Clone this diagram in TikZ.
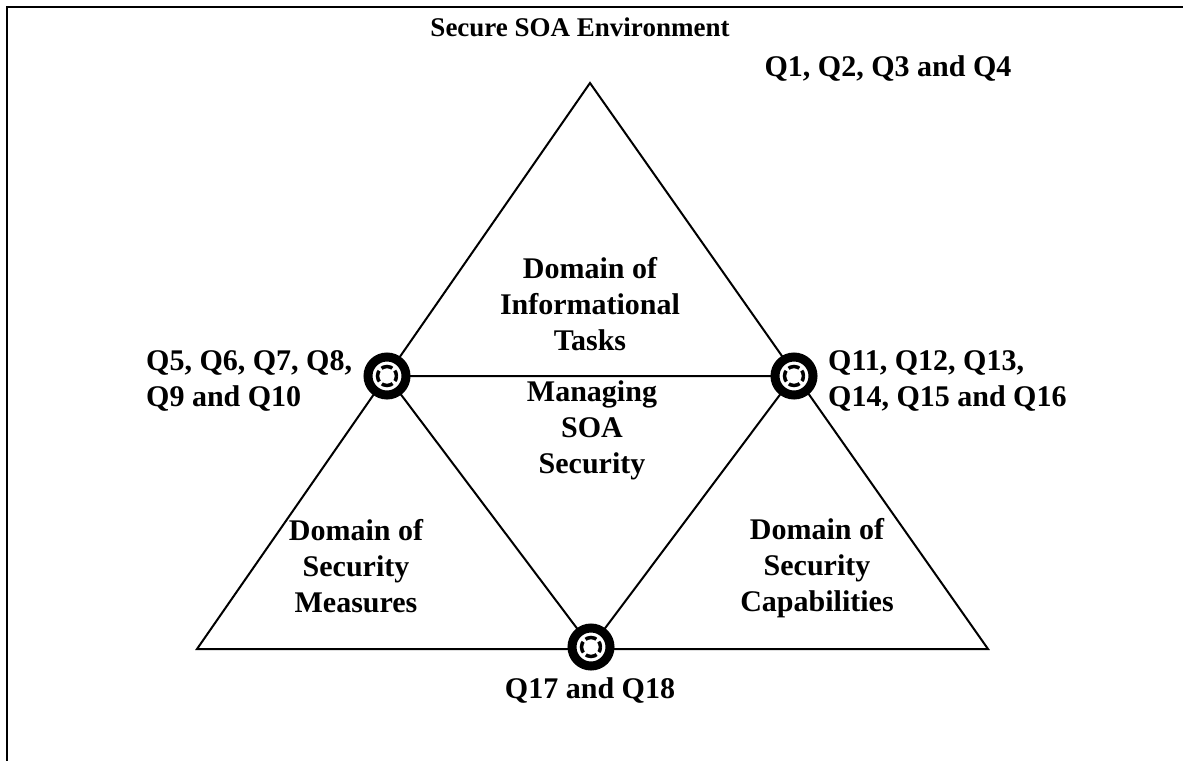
\documentclass[tikz,border=0pt]{standalone}
\usepackage{fontspec}
\setmainfont{Liberation Serif}
\begin{document}
\begin{tikzpicture}[x=1bp,y=-1bp,
  lbl/.style={font=\fontsize{30bp}{36bp}\selectfont\bfseries, inner sep=0pt, align=center},
  lbll/.style={lbl, align=left, anchor=west},
  edge/.style={line width=2bp, line join=miter},
  hub/.style={circle, draw, fill=white, line width=9bp, minimum size=38bp, inner sep=0pt,
    path picture={
      \fill (path picture bounding box.center) circle (6bp);
      \draw[line width=3.5bp, dash pattern=on 11.42bp off 3.5bp, dash phase=5.71bp]
        (path picture bounding box.center) circle (9.5bp);
    }},
]
\useasboundingbox (0,0) rectangle (1183,761);
% open frame: top and left rules only
\draw[line width=2.5bp] (7,761) -- (7,7) -- (1183,7);

% outer triangle corners and the three hub positions
\coordinate (apex) at (590,83);
\coordinate (bl) at (197,649);
\coordinate (br) at (988,649);
\coordinate (pL) at (387,376);
\coordinate (pR) at (794,376);
\coordinate (pB) at (591,647);

\draw[edge] (apex) -- (bl) -- (br) -- cycle;
\draw[edge] (pL) -- (pR) -- (pB) -- cycle;

\node[hub] (hubL) at (pL) {};
\node[hub] (hubR) at (pR) {};
\node[hub] (hubB) at (pB) {};

% labels
\node[lbl, font=\fontsize{27bp}{33bp}\selectfont\bfseries] (env) at (580,27) {Secure SOA Environment};
\node[lbl] (q1) at (888,69) {Q1, Q2, Q3 and Q4};
\node[lbl] (info) at (590,304) {Domain of\\Informational\\Tasks};
\node[lbl] (manage) at (592,430) {Managing\\SOA\\Security};
\node[lbll] (q5) at (146,381) {Q5, Q6, Q7, Q8,\\Q9 and Q10};
\node[lbll] (q11) at (828,381) {Q11, Q12, Q13,\\Q14, Q15 and Q16};
\node[lbl] (meas) at (356,566) {Domain of\\Security\\Measures};
\node[lbl] (capa) at (817,568) {Domain of\\Security\\Capabilities};
\node[lbl] (q17) at (590,691) {Q17 and Q18};
\end{tikzpicture}
\end{document}
